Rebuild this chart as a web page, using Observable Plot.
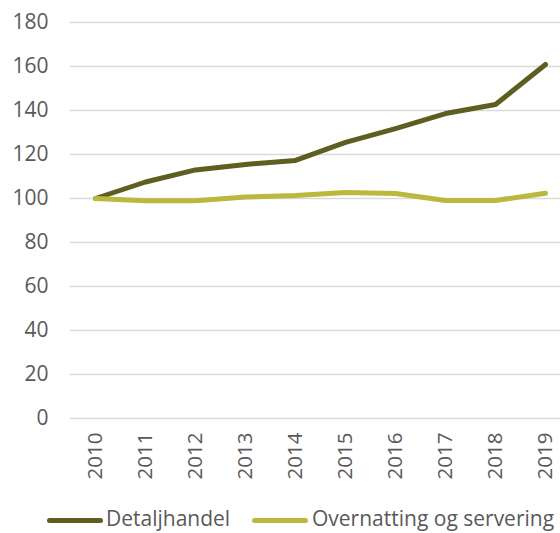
<!DOCTYPE html>
<html>
<head>
<meta charset="utf-8">
<script src="https://cdn.jsdelivr.net/npm/d3@7"></script>
<script src="https://cdn.jsdelivr.net/npm/@observablehq/plot@0.6"></script>
<style>
  body { margin: 0; background: #fff; font-family: "Open Sans", sans-serif; }
  #chart { width: 560px; }
  .legend { position: relative; height: 38px; color: #595959; font-size: 21px; }
  .legend .sw { position: absolute; height: 5px; border-radius: 3px; top: 23px; }
  .legend .lb { position: absolute; top: 9px; line-height: 28px; white-space: nowrap; }
</style>
</head>
<body>
<div id="chart"></div>
<script>
const years = ["2010","2011","2012","2013","2014","2015","2016","2017","2018","2019"];
const detaljhandel = [100, 107.5, 113, 115.5, 117.3, 125.5, 131.8, 138.6, 142.7, 160.9];
const overnatting = [100, 99, 99, 100.7, 101.4, 102.7, 102.3, 99.1, 99.1, 102.4];
const seriesNames = ["Detaljhandel", "Overnatting og servering"];
const seriesColors = ["#5e5e20", "#bab83d"];
const yTicks = [0, 20, 40, 60, 80, 100, 120, 140, 160, 180];

const rows = [];
years.forEach((y, i) => {
  rows.push({year: y, value: detaljhandel[i], series: seriesNames[0]});
  rows.push({year: y, value: overnatting[i], series: seriesNames[1]});
});

const plot = Plot.plot({
  width: 560,
  height: 495,
  marginTop: 22,
  marginBottom: 77,
  marginLeft: 70,
  marginRight: 0,
  style: { fontFamily: "Open Sans, sans-serif", fontSize: "21px", color: "#595959", background: "#fff" },
  x: { type: "point", domain: years, range: [95, 545], padding: 0 },
  y: { domain: [0, 180], ticks: yTicks },
  color: { domain: seriesNames, range: seriesColors },
  marks: [
    Plot.ruleY(yTicks, { stroke: "#d9d9d9", strokeWidth: 1.5 }),
    Plot.axisY({ ticks: yTicks, tickSize: 0, tickPadding: 22, label: null, fontSize: 21, fill: "#595959" }),
    Plot.axisX({ tickSize: 0, tickPadding: 14, tickRotate: -90, label: null, fontSize: 20.5, fill: "#595959" }),
    Plot.line(rows, { x: "year", y: "value", stroke: "series", strokeWidth: 5, strokeLinecap: "round", strokeLinejoin: "round" })
  ]
});
document.getElementById("chart").appendChild(plot);

const legend = document.createElement("div");
legend.className = "legend";
const pos = [{sw: [47, 56], lb: 106}, {sw: [252, 56], lb: 312}];
seriesNames.forEach((n, i) => {
  const s = document.createElement("div");
  s.className = "sw";
  s.style.left = pos[i].sw[0] + "px";
  s.style.width = pos[i].sw[1] + "px";
  s.style.background = seriesColors[i];
  const l = document.createElement("div");
  l.className = "lb";
  l.style.left = pos[i].lb + "px";
  l.textContent = n;
  legend.appendChild(s);
  legend.appendChild(l);
});
document.getElementById("chart").appendChild(legend);
</script>
</body>
</html>
